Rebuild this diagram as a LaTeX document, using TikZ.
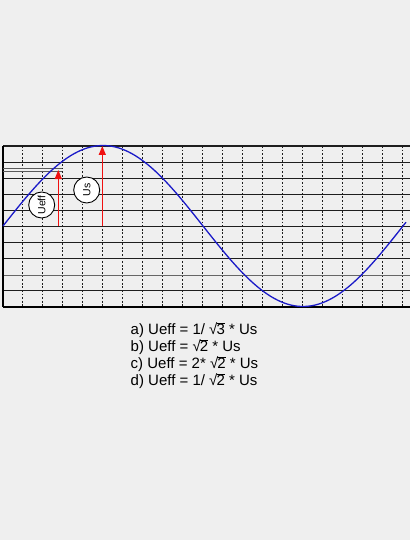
\documentclass[tikz,border=0pt]{standalone}
\usepackage{fontspec}
\setmainfont{Liberation Sans}
\usepackage{tikz}
\usetikzlibrary{positioning,arrows.meta,calc}
\definecolor{bgc}{HTML}{EFEFEF}
\definecolor{wave}{HTML}{1A1AC8}
\definecolor{arrowc}{HTML}{F01010}
\definecolor{gridc}{HTML}{1E1E1E}
\newcommand{\gridrow}[2]{%
  \draw[#2] (3,#1) -- (410,#1);
}
\newcommand{\sq}[1]{\char"221A\kern-0.9pt\vbox{\hrule height 0.7pt\kern0.3pt\hbox{#1}}}
\tikzset{
  dotline/.style={gridc,line width=1.4pt,dash pattern=on 1.8pt off 1.8pt},
  solidline/.style={gridc,line width=1.1pt},
  ampl/.style={arrowc,line width=1.3pt,-{Triangle[length=9pt,width=7pt]}},
  tag/.style={circle,draw,fill=white,line width=0.9pt,minimum size=26pt,inner sep=0pt,rotate=90,font=\fontsize{10.5}{12}\selectfont},
  answer/.style={anchor=base west,inner sep=0pt,font=\fontsize{15}{16}\selectfont}
}

\begin{document}
\begin{tikzpicture}[x=1pt,y=-1pt]
  \useasboundingbox[fill=bgc] (0,0) rectangle (410,540);
  % grid
  \foreach \k in {0,...,19}
    \draw[dotline] ({22.3+20*\k},146) -- ({22.3+20*\k},307);
  \foreach \k in {0,...,7,9}
    \gridrow{146+16.1*\k}{solidline}
  \gridrow{275.5}{gray!80!black,line width=1.6pt}
  \gridrow{307}{black,line width=1.6pt}
  \draw[black,line width=1.4pt] (3,146) -- (3,307);
  \draw[gray!70!black,line width=0.8pt] (3,168.5) -- (62,168.5);
  \draw[gray!70!black,line width=0.8pt] (3,171) -- (62,171);
  % wave
  \draw[wave,line width=1.3pt] plot[domain=3:406,samples=120,smooth]
    (\x,{226-80.5*sin((\x-3)/400*360)});
  % amplitudes
  \coordinate (ueffbase) at (58.3,226);
  \coordinate (uefftop) at (58.3,170);
  \coordinate (usbase) at (102.3,226);
  \coordinate (ustop) at (102.3,146);
  \draw[ampl] (ueffbase) -- (uefftop);
  \draw[ampl] (usbase) -- (ustop);
  \node[tag] (ueff) at (41.7,205) {Ueff};
  \node[tag] (us) at (86.7,190) {Us};
  % answers
  \node[answer] (a) at (130.5,334) {a) Ueff = 1/ \sq{3} * Us};
  \node[answer] (b) at (130.5,351) {b) Ueff = \sq{2} * Us};
  \node[answer] (c) at (130.5,368) {c) Ueff = 2* \sq{2} * Us};
  \node[answer] (d) at (130.5,385) {d) Ueff = 1/ \sq{2} * Us};
\end{tikzpicture}
\end{document}
